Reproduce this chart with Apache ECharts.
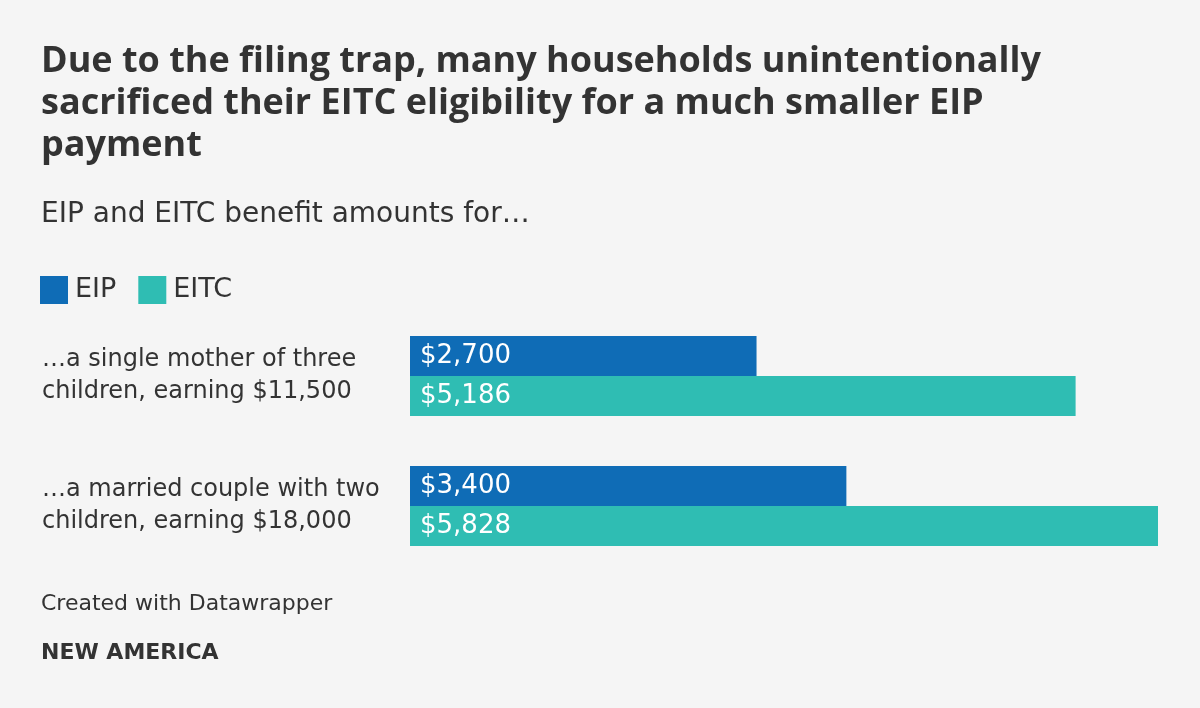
<!DOCTYPE html>
<html><head><meta charset="utf-8">
<script src="https://cdn.jsdelivr.net/npm/echarts@6/dist/echarts.min.js"></script>
<style>html,body{margin:0;padding:0;background:#f5f5f5;}#c{width:1200px;height:708px;}</style>
</head><body><div id="c"></div>
<script>
const categories = ["…a single mother of three\nchildren, earning $11,500", "…a married couple with two\nchildren, earning $18,000"];
const seriesNames = ["EIP", "EITC"];
const eipValues = [2700, 3400];
const eitcValues = [5186, 5828];

const FONT = "'DejaVu Sans', sans-serif";
const TFONT = "'Open Sans', sans-serif";
const chart = echarts.init(document.getElementById('c'));
const fmt = v => '$' + v.toLocaleString('en-US');
chart.setOption({
  backgroundColor: '#f5f5f5',
  animation: false,
  title: [
    {text: 'Due to the filing trap, many households unintentionally\nsacrificed their EITC eligibility for a much smaller EIP\npayment',
     left: 36, top: 36, textStyle: {fontFamily: TFONT, fontWeight: 'bold', fontSize: 36, lineHeight: 42, color: '#333'}},
    {text: 'EIP and EITC benefit amounts for…', left: 36, top: 196,
     textStyle: {fontFamily: FONT, fontWeight: 'normal', fontSize: 28, color: '#333'}},
    {text: 'Created with Datawrapper', left: 36, top: 588,
     textStyle: {fontFamily: FONT, fontWeight: 'normal', fontSize: 22, color: '#333'}},
    {text: 'NEW AMERICA', left: 36, top: 637,
     textStyle: {fontFamily: FONT, fontWeight: 'bold', fontSize: 22, color: '#333'}}
  ],
  legend: {
    left: 35, top: 271, itemWidth: 28, itemHeight: 28, itemGap: 22, icon: 'rect',
    data: seriesNames,
    textStyle: {fontFamily: FONT, fontSize: 27, color: '#333', padding: [0,0,0,2]}
  },
  grid: {left: 410, right: 42, top: 311, bottom: 137},
  xAxis: {type: 'value', min: 0, max: 5828, show: false},
  yAxis: {type: 'category', data: categories, inverse: true,
    axisLine: {show: false}, axisTick: {show: false}, splitLine: {show: false},
    axisLabel: {align: 'left', margin: 368, fontFamily: FONT, fontSize: 24, lineHeight: 32, color: '#333'}},
  series: [
    {name: seriesNames[0], type: 'bar', data: eipValues, barWidth: 40, barGap: '0%', itemStyle: {color: '#0f6cb6'},
     label: {show: true, position: 'insideLeft', distance: 10, color: '#fff', fontFamily: FONT, fontSize: 26, formatter: p => fmt(p.value)}},
    {name: seriesNames[1], type: 'bar', data: eitcValues, barWidth: 40, barGap: '0%', itemStyle: {color: '#2fbdb3'},
     label: {show: true, position: 'insideLeft', distance: 10, color: '#fff', fontFamily: FONT, fontSize: 26, formatter: p => fmt(p.value)}}
  ]
});
</script></body></html>
